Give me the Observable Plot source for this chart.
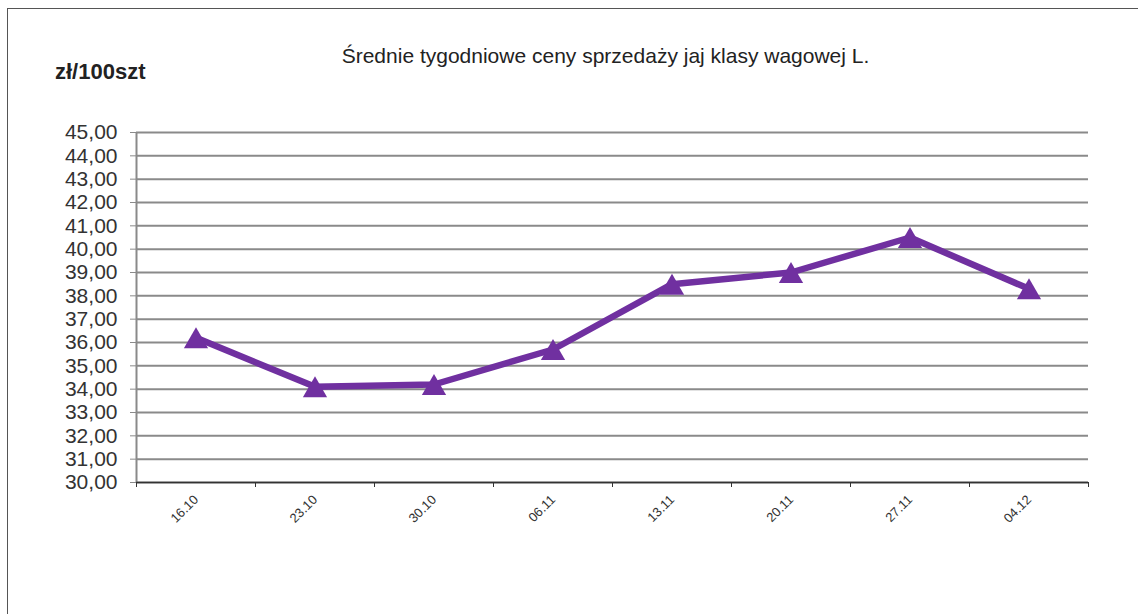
<!DOCTYPE html>
<html>
<head>
<meta charset="utf-8">
<script src="https://cdn.jsdelivr.net/npm/d3@7"></script>
<script src="https://cdn.jsdelivr.net/npm/@observablehq/plot@0.6"></script>
<style>
  html, body { margin: 0; padding: 0; background: #fff; }
  #wrap { position: relative; width: 1138px; height: 614px; overflow: hidden; font-family: "Liberation Sans", Arial, sans-serif; }
  #frame { position: absolute; left: 7px; top: 8px; width: 1200px; height: 700px; border: 1.5px solid #555; box-sizing: border-box; }
  #title { position: absolute; left: 0; width: 1211px; top: 44px; text-align: center; font-size: 21px; color: #222; white-space: nowrap; }
  #unit { position: absolute; left: 55px; top: 59px; font-size: 22px; font-weight: bold; color: #222; white-space: nowrap; }
  #chart { position: absolute; left: 0; top: 0; }
</style>
</head>
<body>
<div id="wrap">
  <div id="frame"></div>
  <div id="chart"></div>
  <div id="title">Średnie tygodniowe ceny sprzedaży jaj klasy wagowej L.</div>
  <div id="unit">zł/100szt</div>
</div>
<script>
const dates = ["16.10", "23.10", "30.10", "06.11", "13.11", "20.11", "27.11", "04.12"];
const prices = [36.2, 34.1, 34.2, 35.7, 38.5, 39.0, 40.5, 38.3];
const yTicks = [30, 31, 32, 33, 34, 35, 36, 37, 38, 39, 40, 41, 42, 43, 44, 45];

const data = dates.map((d, i) => ({date: d, idx: i + 0.5, price: prices[i]}));
const boundaries = d3.range(0, dates.length + 1);
const purple = "#7030A0";

const chart = Plot.plot({
  width: 1138,
  height: 614,
  marginLeft: 136,
  marginRight: 50,
  marginTop: 132,
  marginBottom: 132,
  style: {fontFamily: "'Liberation Sans', Arial, sans-serif", color: "#333", background: "transparent"},
  x: {domain: [0, dates.length], label: null},
  y: {domain: [30, 45], label: null},
  marks: [
    Plot.gridY(yTicks, {stroke: "#8a8a8a", strokeOpacity: 1, strokeWidth: 2}),
    Plot.ruleX([0], {stroke: "#8a8a8a", strokeWidth: 2}),
    Plot.axisY({ticks: yTicks, tickFormat: d => d.toFixed(2).replace(".", ","), tickSize: 6, tickPadding: 13, fontSize: 21, stroke: "#8a8a8a", fill: "#333", label: null}),
    Plot.ruleY([30], {stroke: "#333", strokeWidth: 1.5}),
    Plot.axisX({ticks: boundaries, tickFormat: () => "", tickSize: 5, stroke: "#333", label: null}),
    Plot.text(data, {x: "idx", y: () => 30, text: "date", rotate: -45, textAnchor: "end", lineAnchor: "bottom", dx: 3, dy: 18, fontSize: 13, fill: "#333"}),
    Plot.line(data, {x: "idx", y: "price", stroke: purple, strokeWidth: 6.5, strokeLinejoin: "round"}),
    Plot.dot(data, {x: "idx", y: "price", symbol: "triangle", r: 9, fill: purple, stroke: "none", dy: 3.5})
  ]
});
document.getElementById("chart").appendChild(chart);
</script>
</body>
</html>
